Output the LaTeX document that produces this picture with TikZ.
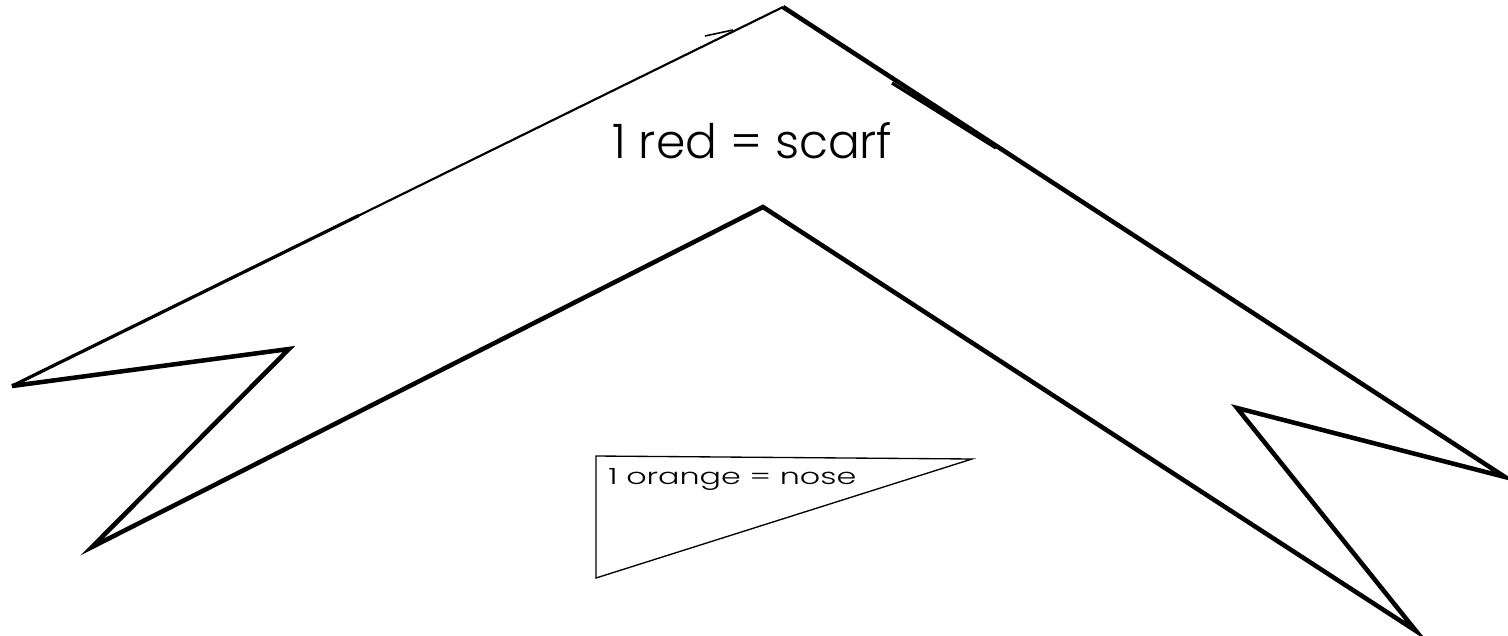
\documentclass[tikz,border=0pt]{standalone}
\usepackage{fontspec}
\setmainfont{Poppins Light}
\usetikzlibrary{calc}
\begin{document}
\begin{tikzpicture}[x=0.75pt,y=-0.75pt,
  scarfline/.style={line width=3.4pt,line join=miter,miter limit=20},
  thinline/.style={line width=1.6pt},
  noseline/.style={line width=1pt},
  lbl/.style={inner sep=0pt,anchor=base west}]
\useasboundingbox (0,0) rectangle (1508,635);
% scarf outline
\coordinate (apex) at (783,7);
\coordinate (ltip) at (12,386);
\coordinate (lnotch) at (289,349);
\coordinate (lbot) at (92,547);
\coordinate (inapex) at (763,207);
\coordinate (rbot) at (1416,631);
\coordinate (rnotch) at (1237,408);
\coordinate (rtip) at (1505,477);
\draw[thinline] (apex) -- (ltip);
\draw[scarfline] (ltip) -- (lnotch) -- (lbot) -- (inapex) -- (rbot) -- (rnotch) -- (rtip) -- (apex);
\draw[line width=2.4pt] (ltip) -- ($(ltip)!0.45!(apex)$);
% small marks near top
\draw[line width=1.2pt] (705,36) -- (733,30);
\draw[line width=2.4pt] (892,83) -- (996,148);
% nose
\coordinate (ntl) at (596,456);
\coordinate (nr) at (972,459);
\coordinate (nb) at (596,578);
\draw[noseline] (ntl) -- (nr) -- (nb) -- cycle;
% texts
\node[lbl] (scarf) at (612,158) {\resizebox{210pt}{27pt}{1 red = scarf}};
\node[lbl] (nose) at (608,484) {\resizebox{186pt}{12pt}{1 orange = nose}};
\end{tikzpicture}
\end{document}
